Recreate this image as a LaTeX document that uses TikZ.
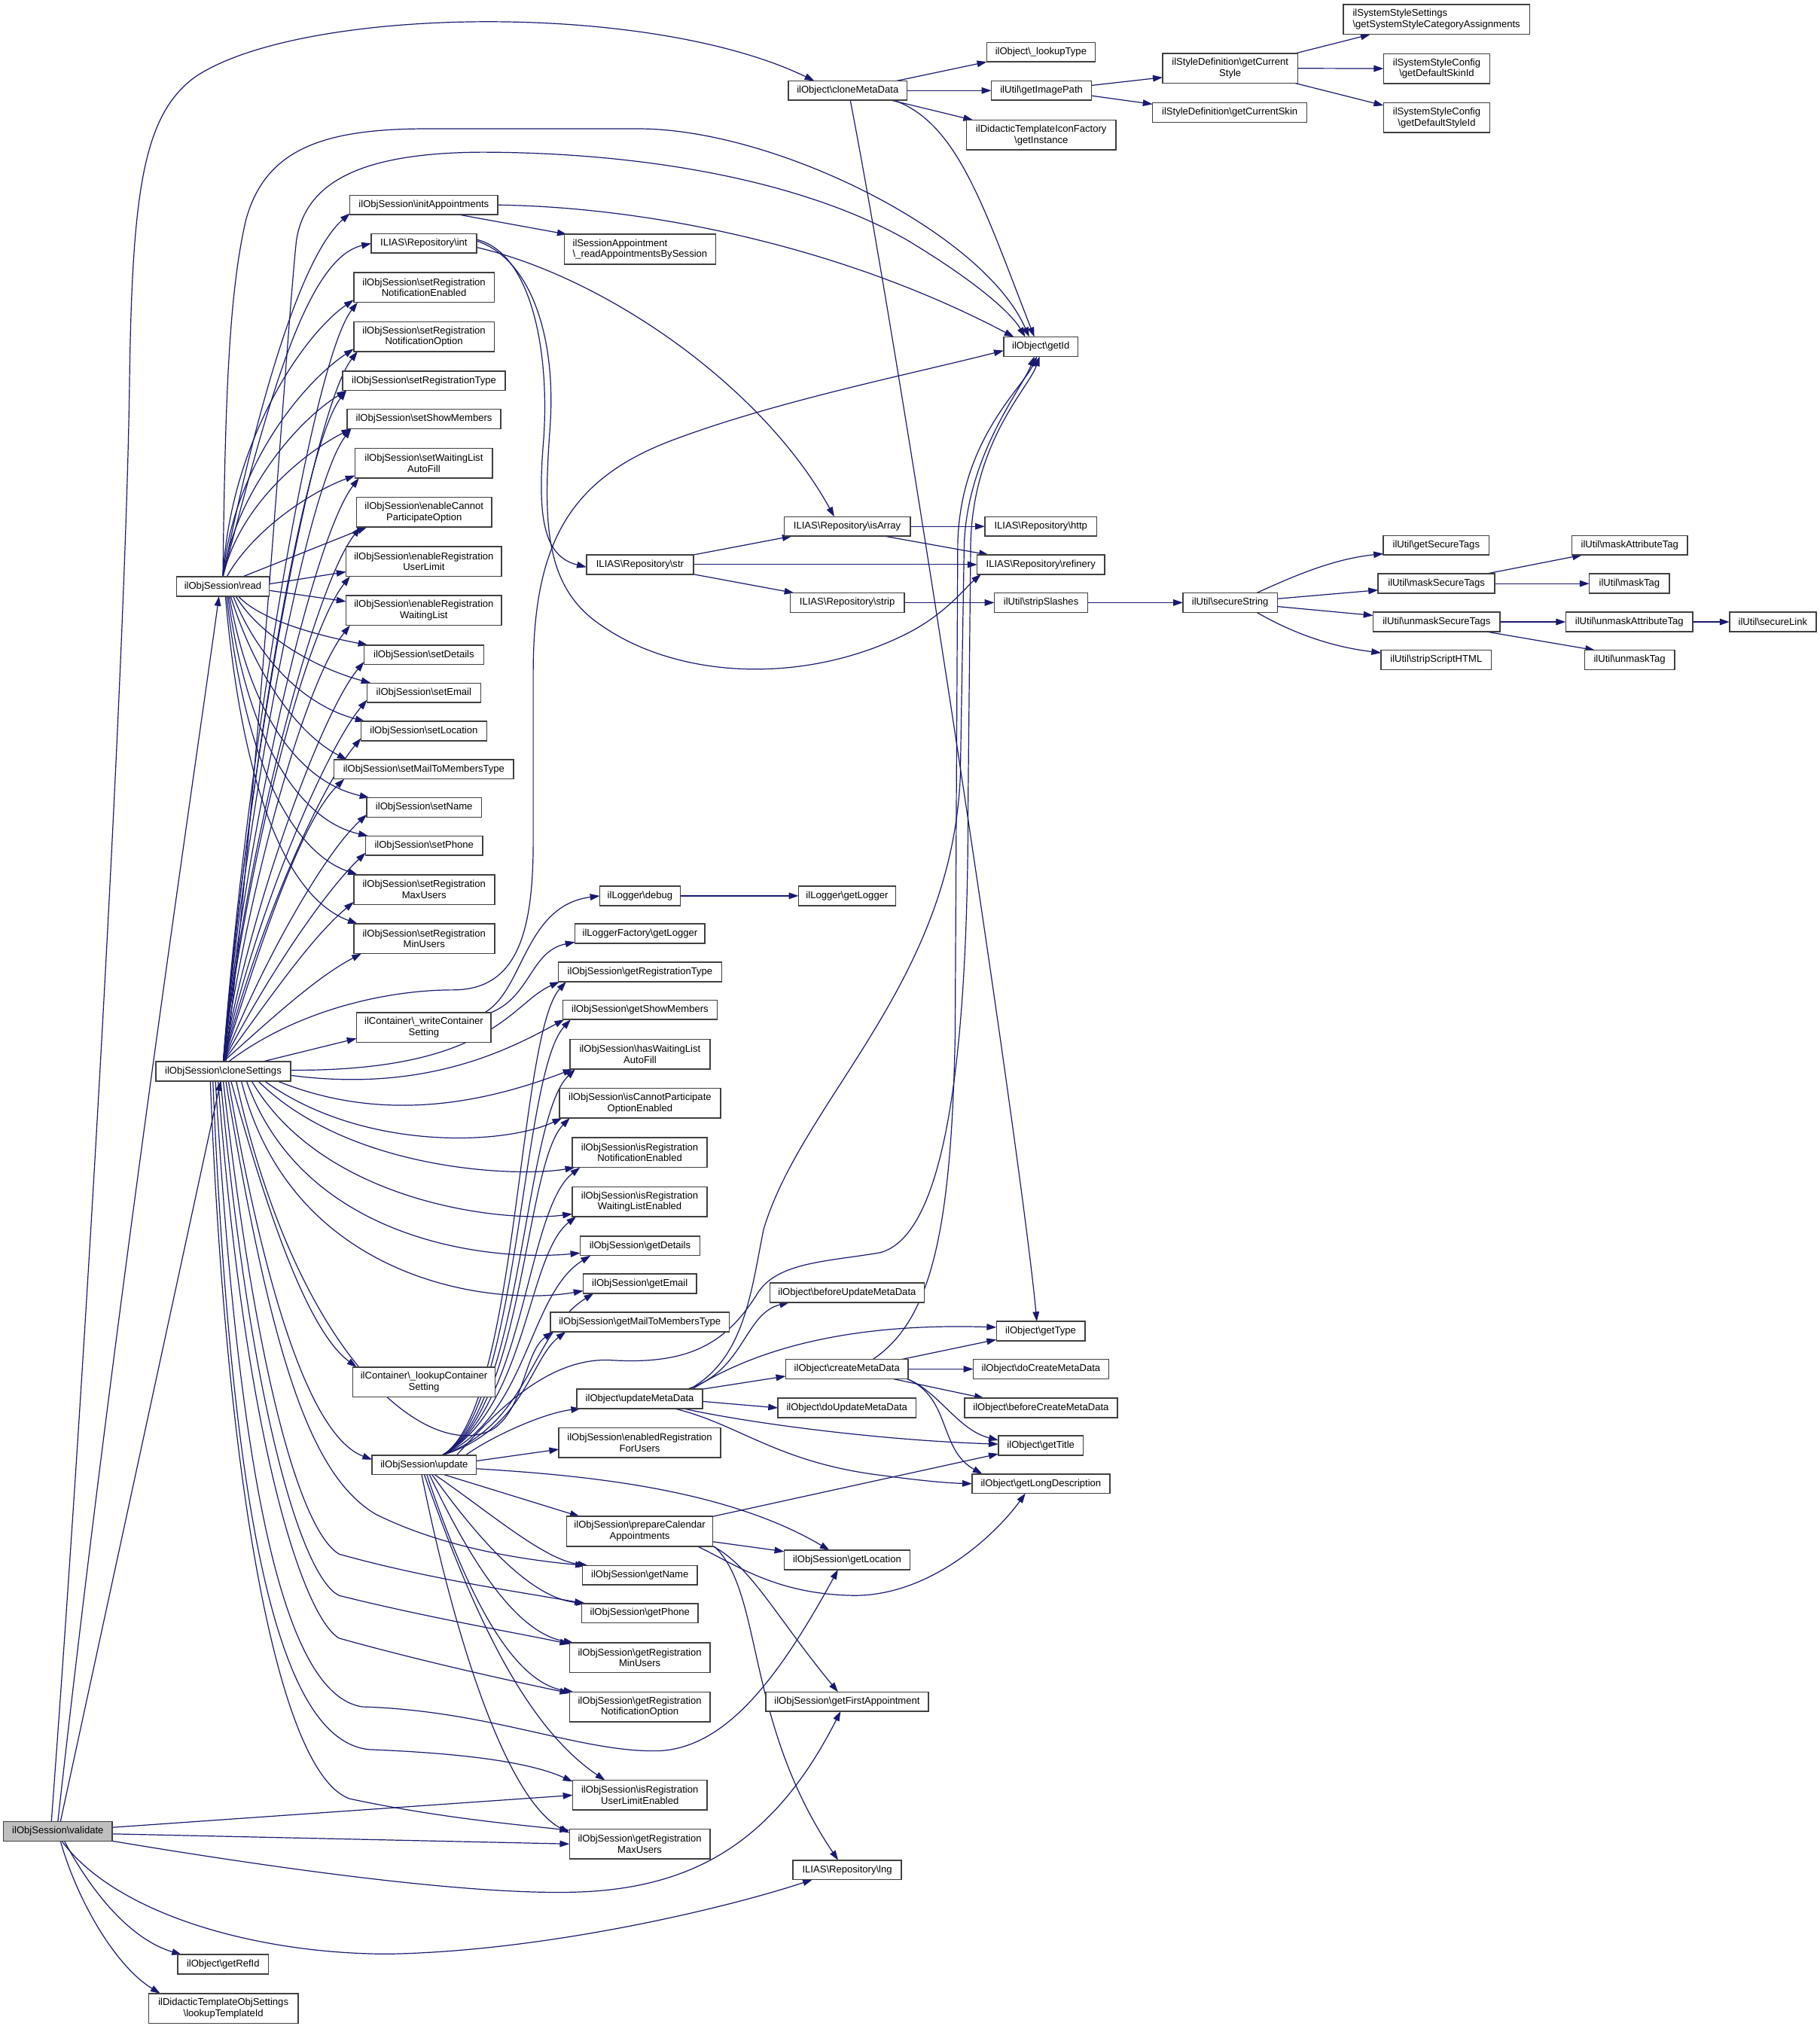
\documentclass[tikz,border=0pt]{standalone}
\usepackage{fontspec}
\setmainfont{Liberation Sans}
\usetikzlibrary{arrows.meta}
\definecolor{edgeblue}{HTML}{191970}
\definecolor{rootgray}{HTML}{BFBFBF}
\definecolor{boxline}{HTML}{404040}
\def\bs{\textbackslash}
\pgfdeclarelayer{bg}
\pgfsetlayers{bg,main}
\tikzset{
  nd/.style={draw=boxline, line width=0.9pt, fill=white, inner sep=0pt, outer sep=0pt,
    font=\fontsize{7.6}{8.6}\selectfont, align=center, minimum height=15pt},
  nd2/.style={nd, minimum height=23pt},
  ar/.style={draw=edgeblue, line width=0.7pt, -{Triangle[length=7.5pt,width=5pt]}},
}
\begin{document}
\begin{tikzpicture}[x=1pt,y=-1pt]
\useasboundingbox (0,0) rectangle (1406,1568);
% ---------------- nodes ----------------
\node[nd,fill=rootgray,minimum width=84pt] (validate) at (44.7,1415.2) {ilObjSession\bs validate};
\node[nd,minimum width=91.6pt] (cloneMeta) at (655,70) {ilObject\bs cloneMetaData};
\node[nd,minimum width=83.7pt] (lookupType) at (804.3,40.3) {ilObject\bs\_lookupType};
\node[nd,minimum width=77.5pt] (imgPath) at (804.7,70) {ilUtil\bs getImagePath};
\node[nd2,minimum width=115.3pt] (iconFac) at (804.5,104.3) {ilDidacticTemplateIconFactory\\\bs getInstance};
\node[nd2,minimum width=104.4pt] (curStyle) at (950.5,52.8) {ilStyleDefinition\bs getCurrent\\Style};
\node[nd,minimum width=119.3pt] (curSkin) at (950.2,87) {ilStyleDefinition\bs getCurrentSkin};
\node[nd2,minimum width=144.2pt,align=left] (sysSettings) at (1109.9,15.1) {ilSystemStyleSettings\\\bs getSystemStyleCategoryAssignments};
\node[nd2,minimum width=82.2pt] (skinId) at (1110.1,53) {ilSystemStyleConfig\\\bs getDefaultSkinId};
\node[nd2,minimum width=82.2pt] (styleId) at (1110.1,91) {ilSystemStyleConfig\\\bs getDefaultStyleId};
\node[nd,minimum width=114.3pt] (initApp) at (327.5,158.4) {ilObjSession\bs initAppointments};
\node[nd2,minimum width=117pt,align=left] (readApp) at (494.5,192.6) {ilSessionAppointment\\\bs\_readAppointmentsBySession};
\node[nd,minimum width=81.3pt] (int) at (327.5,188.1) {ILIAS\bs Repository\bs int};
\node[nd2,minimum width=108.6pt] (sRNE) at (327.6,222.2) {ilObjSession\bs setRegistration\\NotificationEnabled};
\node[nd2,minimum width=108.6pt] (sRNO) at (327.6,260.1) {ilObjSession\bs setRegistration\\NotificationOption};
\node[nd,minimum width=125.9pt] (sRT) at (327.6,294.3) {ilObjSession\bs setRegistrationType};
\node[nd,minimum width=118.5pt] (sSM) at (327.6,323.8) {ilObjSession\bs setShowMembers};
\node[nd2,minimum width=106.3pt] (sWL) at (327.5,358) {ilObjSession\bs setWaitingList\\AutoFill};
\node[nd2,minimum width=104.2pt] (eCP) at (327.7,395.8) {ilObjSession\bs enableCannot\\ParticipateOption};
\node[nd2,minimum width=120.1pt] (eRUL) at (327.5,433.9) {ilObjSession\bs enableRegistration\\UserLimit};
\node[nd2,minimum width=120.1pt] (eRWL) at (327.5,471.8) {ilObjSession\bs enableRegistration\\WaitingList};
\node[nd,minimum width=71.7pt] (read) at (172.2,453.3) {ilObjSession\bs read};
\node[nd,minimum width=92.5pt] (sDet) at (327.5,506) {ilObjSession\bs setDetails};
\node[nd,minimum width=87.9pt] (sEm) at (327.5,535.4) {ilObjSession\bs setEmail};
\node[nd,minimum width=97.1pt] (sLoc) at (327.5,565) {ilObjSession\bs setLocation};
\node[nd,minimum width=138.9pt] (sMail) at (327.5,594.5) {ilObjSession\bs setMailToMembersType};
\node[nd,minimum width=88.6pt] (sName) at (327.7,624) {ilObjSession\bs setName};
\node[nd,minimum width=90.4pt] (sPh) at (327.7,653.5) {ilObjSession\bs setPhone};
\node[nd2,minimum width=108.8pt] (sMax) at (327.7,687.5) {ilObjSession\bs setRegistration\\MaxUsers};
\node[nd2,minimum width=108.8pt] (sMin) at (327.7,725.4) {ilObjSession\bs setRegistration\\MinUsers};
\node[nd2,minimum width=103.9pt] (wcs) at (327.5,794) {ilContainer\bs\_writeContainer\\Setting};
\node[nd,minimum width=104pt] (clone) at (172.5,828) {ilObjSession\bs cloneSettings};
\node[nd2,minimum width=110pt] (lcs) at (327.6,1068) {ilContainer\bs\_lookupContainer\\Setting};
\node[nd,minimum width=80.5pt] (update) at (327.8,1132) {ilObjSession\bs update};
\node[nd,minimum width=70.2pt] (refId) at (172.4,1518) {ilObject\bs getRefId};
\node[nd2,minimum width=115.6pt] (tplId) at (172.6,1552) {ilDidacticTemplateObjSettings\\\bs lookupTemplateId};
\node[nd,minimum width=57.5pt] (getId) at (804.2,267.9) {ilObject\bs getId};
\node[nd,minimum width=97.3pt] (isArray) at (654.6,406.8) {ILIAS\bs Repository\bs isArray};
\node[nd,minimum width=86.5pt] (http) at (804.2,406.8) {ILIAS\bs Repository\bs http};
\node[nd,minimum width=82.6pt] (str) at (494.5,436.3) {ILIAS\bs Repository\bs str};
\node[nd,minimum width=98.4pt] (refinery) at (804.2,436.3) {ILIAS\bs Repository\bs refinery};
\node[nd,minimum width=88.1pt] (strip) at (654.6,465.7) {ILIAS\bs Repository\bs strip};
\node[nd,minimum width=72.1pt] (stripSl) at (804.4,465.7) {ilUtil\bs stripSlashes};
\node[nd,minimum width=73pt] (secStr) at (950.5,465.7) {ilUtil\bs secureString};
\node[nd,minimum width=81.7pt] (secTags) at (1109.7,421.4) {ilUtil\bs getSecureTags};
\node[nd,minimum width=90.2pt] (maskST) at (1109.9,451) {ilUtil\bs maskSecureTags};
\node[nd,minimum width=98pt] (unmaskST) at (1110,480.6) {ilUtil\bs unmaskSecureTags};
\node[nd,minimum width=85.1pt] (stripHTML) at (1109.7,510) {ilUtil\bs stripScriptHTML};
\node[nd,minimum width=89.5pt] (maskAT) at (1259.2,421.4) {ilUtil\bs maskAttributeTag};
\node[nd,minimum width=62pt] (maskTag) at (1259,451) {ilUtil\bs maskTag};
\node[nd,minimum width=98.3pt] (unmaskAT) at (1258.9,480.6) {ilUtil\bs unmaskAttributeTag};
\node[nd,minimum width=67pt] (secLink) at (1369.8,480.6) {ilUtil\bs secureLink};
\node[nd,minimum width=69.4pt] (unmaskTag) at (1259.1,510) {ilUtil\bs unmaskTag};
\node[nd,minimum width=62.1pt] (logDbg) at (494.5,692.3) {ilLogger\bs debug};
\node[nd,minimum width=75pt] (logGet) at (654.5,692.3) {ilLogger\bs getLogger};
\node[nd,minimum width=100.4pt] (logFac) at (494.5,721.5) {ilLoggerFactory\bs getLogger};
\node[nd,minimum width=126.2pt] (gRT) at (494.5,751.2) {ilObjSession\bs getRegistrationType};
\node[nd,minimum width=119.1pt] (gSM) at (494.5,780.4) {ilObjSession\bs getShowMembers};
\node[nd2,minimum width=108pt] (hWL) at (494.5,814.7) {ilObjSession\bs hasWaitingList\\AutoFill};
\node[nd2,minimum width=124.5pt] (iCP) at (494.5,852.5) {ilObjSession\bs isCannotParticipate\\OptionEnabled};
\node[nd2,minimum width=104.2pt] (iRNE) at (494.3,890.7) {ilObjSession\bs isRegistration\\NotificationEnabled};
\node[nd2,minimum width=104.2pt] (iRWL) at (494.3,928.6) {ilObjSession\bs isRegistration\\WaitingListEnabled};
\node[nd,minimum width=92.4pt] (gDet) at (494.5,962.8) {ilObjSession\bs getDetails};
\node[nd,minimum width=87.4pt] (gEm) at (494.4,992) {ilObjSession\bs getEmail};
\node[nd,minimum width=138.4pt] (gMail) at (494.4,1021.6) {ilObjSession\bs getMailToMembersType};
\node[nd,minimum width=119.3pt] (bUMD) at (654.5,999) {ilObject\bs beforeUpdateMetaData};
\node[nd,minimum width=68.4pt] (gType) at (804.1,1028.7) {ilObject\bs getType};
\node[nd,minimum width=94.6pt] (cMD) at (654.4,1058) {ilObject\bs createMetaData};
\node[nd,minimum width=104.7pt] (dCMD) at (804.3,1058) {ilObject\bs doCreateMetaData};
\node[nd,minimum width=97.1pt] (uMD) at (494.3,1081) {ilObject\bs updateMetaData};
\node[nd,minimum width=106.6pt] (dUMD) at (654.4,1088) {ilObject\bs doUpdateMetaData};
\node[nd,minimum width=117.9pt] (bCMD) at (804.3,1088) {ilObject\bs beforeCreateMetaData};
\node[nd2,minimum width=124.9pt] (eRFU) at (494.3,1115) {ilObjSession\bs enabledRegistration\\ForUsers};
\node[nd,minimum width=65.6pt] (gTitle) at (804.2,1117) {ilObject\bs getTitle};
\node[nd,minimum width=106.5pt] (gLD) at (804.3,1146.6) {ilObject\bs getLongDescription};
\node[nd2,minimum width=112.9pt] (pCA) at (494.3,1183.4) {ilObjSession\bs prepareCalendar\\Appointments};
\node[nd,minimum width=97.1pt] (gLoc) at (654.5,1205.5) {ilObjSession\bs getLocation};
\node[nd,minimum width=88.6pt] (gName) at (494.4,1217.3) {ilObjSession\bs getName};
\node[nd,minimum width=89.8pt] (gPh) at (494.4,1246.6) {ilObjSession\bs getPhone};
\node[nd2,minimum width=108.5pt] (gMin) at (494.3,1281) {ilObjSession\bs getRegistration\\MinUsers};
\node[nd2,minimum width=108.5pt] (gRNO) at (494.3,1319) {ilObjSession\bs getRegistration\\NotificationOption};
\node[nd,minimum width=125.5pt] (gFA) at (654.5,1315) {ilObjSession\bs getFirstAppointment};
\node[nd2,minimum width=103.8pt] (iRUL) at (494.4,1387.3) {ilObjSession\bs isRegistration\\UserLimitEnabled};
\node[nd2,minimum width=108.5pt] (gMax) at (494.3,1425) {ilObjSession\bs getRegistration\\MaxUsers};
\node[nd,minimum width=83.6pt] (lng) at (654.6,1445) {ILIAS\bs Repository\bs lng};
% ---------------- edges ----------------
\begin{pgfonlayer}{bg}
\fill[white] (0,0) rectangle (1406,1568);
% validate
\draw[ar] ([xshift=-5pt]validate.north) .. controls (70,1000) and (97,500) .. (100,300) .. controls (102,150) and (110,90) .. (150,60) .. controls (230,5) and (500,0) .. ([xshift=20pt]cloneMeta.north west);
\draw[ar] (validate.north) .. controls (90,1000) and (150,600) .. ([xshift=-3pt]read.south);
\draw[ar] ([xshift=2pt]validate.north) -- ([xshift=-2pt]clone.south);
\draw[ar] ([yshift=3pt]validate.east) -- (iRUL.west);
\draw[ar] ([yshift=-2pt]validate.east) -- (gMax.west);
\draw[ar] (validate.south east) .. controls (250,1450) and (380,1465) .. (450,1462) .. controls (540,1458) and (600,1420) .. ([xshift=-5pt]gFA.south);
\draw[ar] ([xshift=3pt]validate.south) .. controls (90,1480) and (200,1510) .. (300,1510) .. controls (420,1508) and (560,1475) .. ([xshift=15pt]lng.south west);
\draw[ar] ([xshift=5pt]validate.south) .. controls (75,1470) and (105,1500) .. ([xshift=3pt]refId.north west);
\draw[ar] ([xshift=2pt]validate.south) .. controls (60,1470) and (90,1520) .. ([xshift=9pt]tplId.north west);
% read
\draw[ar] (read.north) .. controls (174,320) and (176,230) .. (190,170) .. controls (205,115) and (250,99.5) .. (330,99.5) -- (494,99.5) .. controls (600,100) and (760,180) .. ([xshift=-9pt]getId.north);
\draw[ar] (read.north) .. controls (195,330) and (230,200) .. ([yshift=1pt]initApp.south west);
\draw[ar] (read.north) .. controls (205,320) and (235,200) .. (int.west);
\draw[ar] (read.north) .. controls (178,340) and (235,258) .. ([yshift=2pt]sRNE.south west);
\draw[ar] (read.north) .. controls (180,360) and (235,295) .. ([yshift=2pt]sRNO.south west);
\draw[ar] (read.north) .. controls (182,380) and (230,325) .. ([xshift=3pt]sRT.south west);
\draw[ar] (read.north) .. controls (185,390) and (235,350) .. ([xshift=3pt]sSM.south west);
\draw[ar] ([xshift=3pt]read.north) .. controls (195,410) and (240,380) .. ([yshift=2pt]sWL.south west);
\draw[ar] ([xshift=15pt]read.north) -- ([xshift=8pt]eCP.south west);
\draw[ar] ([yshift=2pt]read.east) -- ([yshift=-8pt]eRUL.west);
\draw[ar] ([yshift=-3pt]read.east) -- ([yshift=7pt]eRWL.west);
\draw[ar] ([xshift=12pt]read.south) .. controls (200,478) and (240,490) .. ([xshift=3pt]sDet.north west);
\draw[ar] ([xshift=10pt]read.south) .. controls (200,490) and (240,515) .. ([xshift=3pt]sEm.north west);
\draw[ar] ([xshift=8pt]read.south) .. controls (200,510) and (235,545) .. ([xshift=3pt]sLoc.north west);
\draw[ar] ([xshift=6pt]read.south) .. controls (200,530) and (235,570) .. ([xshift=10pt]sMail.north west);
\draw[ar] ([xshift=5pt]read.south) .. controls (195,560) and (235,605) .. ([xshift=2pt]sName.north west);
\draw[ar] ([xshift=4pt]read.south) .. controls (192,580) and (235,635) .. ([xshift=2pt]sPh.north west);
\draw[ar] ([xshift=3pt]read.south) .. controls (190,600) and (230,660) .. ([xshift=3pt]sMax.north west);
\draw[ar] ([xshift=2pt]read.south) .. controls (188,620) and (225,695) .. ([xshift=3pt]sMin.north west);
% cloneSettings -> setters
\draw[ar] (clone.north) .. controls (190,586) and (241,279) .. ([xshift=3pt]sRNE.south west);
\draw[ar] (clone.north) .. controls (190,601) and (241,317) .. ([xshift=3pt]sRNO.south west);
\draw[ar] (clone.north) .. controls (190,614) and (233,347) .. ([xshift=3pt]sRT.south west);
\draw[ar] (clone.north) .. controls (190,625) and (237,376) .. ([xshift=3pt]sSM.south west);
\draw[ar] (clone.north) .. controls (190,640) and (242,415) .. ([xshift=3pt]sWL.south west);
\draw[ar] (clone.north) .. controls (190,655) and (243,452) .. ([xshift=3pt]eCP.south west);
\draw[ar] (clone.north) .. controls (190,670) and (235,490) .. ([xshift=3pt]eRUL.south west);
\draw[ar] (clone.north) .. controls (192,686) and (235,528) .. ([xshift=3pt]eRWL.south west);
\draw[ar] (clone.north) .. controls (194,698) and (249,550) .. ([yshift=2pt]sDet.south west);
\draw[ar] (clone.north) .. controls (196,709) and (251,580) .. ([yshift=2pt]sEm.south west);
\draw[ar] (clone.north) .. controls (198,721) and (246,610) .. ([yshift=2pt]sLoc.south west);
\draw[ar] (clone.north) .. controls (200,733) and (232,635) .. ([xshift=8pt]sMail.south west);
\draw[ar] (clone.north) .. controls (202,745) and (250,660) .. ([yshift=2pt]sName.south west);
\draw[ar] (clone.north) .. controls (205,757) and (250,690) .. ([yshift=2pt]sPh.south west);
\draw[ar] (clone.north) .. controls (208,772) and (240,725) .. ([yshift=2pt]sMax.south west);
\draw[ar] (clone.north) .. controls (212,785) and (245,755) .. ([xshift=6pt]sMin.south west);
% cloneSettings -> others
\draw[ar] ([xshift=30pt]clone.north) -- ([yshift=3pt]wcs.south west);
\draw[ar] ([xshift=4pt]clone.north) .. controls (230,780) and (300,765) .. (350,765) .. controls (400,765) and (412,720) .. (412,650) -- (412,520) .. controls (412,420) and (440,370) .. (520,340) .. controls (600,310) and (700,290) .. ([yshift=-3pt]getId.west);
\draw[ar] ([xshift=2pt]clone.north) .. controls (200,600) and (222,250) .. (229,186) .. controls (236,140) and (280,118) .. (373,117.6) .. controls (500,118) and (620,140) .. (700,185) .. controls (750,215) and (780,240) .. ([xshift=-12pt]getId.north);
\draw[ar] ([yshift=1pt]clone.east) .. controls (380,828) and (395,775) .. ([xshift=1pt]gRT.south west);
\draw[ar] ([yshift=-3pt]clone.east) .. controls (330,845) and (395,810) .. ([xshift=1pt]gSM.south west);
\draw[ar] ([xshift=-10pt]clone.south east) .. controls (300,870) and (380,850) .. ([xshift=2pt]hWL.south west);
\draw[ar] ([xshift=-20pt]clone.south east) .. controls (280,890) and (390,885) .. ([xshift=2pt]iCP.south west);
\draw[ar] ([xshift=-25pt]clone.south east) .. controls (270,905) and (400,910) .. ([xshift=2pt]iRNE.south west);
\draw[ar] ([xshift=-30pt]clone.south east) .. controls (250,930) and (390,945) .. ([yshift=2pt]iRWL.south west);
\draw[ar] ([xshift=18pt]clone.south) .. controls (235,960) and (380,975) .. ([yshift=2pt]gDet.south west);
\draw[ar] ([xshift=14pt]clone.south) .. controls (225,990) and (380,1010) .. ([yshift=2pt]gEm.south west);
\draw[ar] ([xshift=10pt]clone.south) .. controls (230,1050) and (330,1130) .. (380,1105) .. controls (405,1090) and (405,1045) .. ([xshift=2pt]gMail.south west);
\draw[ar] ([xshift=6pt]clone.south) .. controls (210,950) and (240,1030) .. ([xshift=3pt]lcs.north west);
\draw[ar] ([xshift=4pt]clone.south) .. controls (205,1000) and (240,1110) .. ([yshift=4pt]update.west);
\draw[ar] ([xshift=2pt]clone.south) .. controls (210,1050) and (240,1140) .. (290,1170) .. controls (340,1195) and (400,1205) .. ([xshift=2pt]gName.north west);
\draw[ar] (clone.south) .. controls (200,1080) and (235,1185) .. (262,1201) .. controls (330,1220) and (400,1230) .. ([xshift=2pt]gPh.north west);
\draw[ar] ([xshift=-2pt]clone.south) .. controls (195,1100) and (235,1220) .. (262,1233) .. controls (330,1250) and (400,1262) .. ([yshift=-1pt]gMin.north west);
\draw[ar] ([xshift=-4pt]clone.south) .. controls (190,1120) and (235,1250) .. (262,1266) .. controls (330,1285) and (400,1300) .. ([yshift=-1pt]gRNO.north west);
\draw[ar] ([xshift=-6pt]clone.south) .. controls (185,1150) and (220,1310) .. (280,1319) .. controls (380,1322) and (450,1355) .. (510,1353) .. controls (560,1350) and (600,1300) .. ([xshift=-7pt]gLoc.south);
\draw[ar] ([xshift=-8pt]clone.south) .. controls (180,1200) and (220,1345) .. (285,1352) .. controls (360,1355) and (410,1362) .. ([yshift=-1pt]iRUL.north west);
\draw[ar] ([xshift=-10pt]clone.south) .. controls (175,1150) and (215,1370) .. (270,1390) .. controls (340,1405) and (400,1410) .. ([yshift=-1pt]gMax.north west);
% update
\draw[ar] ([xshift=14pt]update.north) .. controls (400,1090) and (400,800) .. ([xshift=6pt]gRT.south west);
\draw[ar] ([xshift=14pt]update.north) .. controls (402,1090) and (402,830) .. ([xshift=6pt]gSM.south west);
\draw[ar] ([xshift=14pt]update.north) .. controls (404,1090) and (404,865) .. ([xshift=4pt]hWL.south west);
\draw[ar] ([xshift=14pt]update.north) .. controls (405,1090) and (405,900) .. ([xshift=8pt]iCP.south west);
\draw[ar] ([xshift=14pt]update.north) .. controls (406,1090) and (406,935) .. ([xshift=6pt]iRNE.south west);
\draw[ar] ([xshift=14pt]update.north) .. controls (407,1090) and (407,970) .. ([xshift=3pt]iRWL.south west);
\draw[ar] ([xshift=14pt]update.north) .. controls (408,1095) and (408,1000) .. ([xshift=8pt]gDet.south west);
\draw[ar] ([xshift=14pt]update.north) .. controls (410,1100) and (410,1030) .. ([xshift=8pt]gEm.south west);
\draw[ar] ([xshift=14pt]update.north) .. controls (405,1105) and (410,1050) .. ([xshift=12pt]gMail.south west);
\draw[ar] ([xshift=25pt]update.north) .. controls (380,1095) and (420,1050) .. (470,1051) .. controls (530,1055) and (560,1040) .. (585,1000) .. controls (600,975) and (640,975) .. (680,968) .. controls (730,955) and (748,820) .. (748,620) -- (750,420) .. controls (752,340) and (795,300) .. ([xshift=-1pt]getId.south);
\draw[ar] ([xshift=32pt]update.north) .. controls (380,1110) and (420,1092) .. ([xshift=3pt]uMD.south west);
\draw[ar] ([yshift=3pt]update.east) -- ([yshift=-5pt]eRFU.west);
\draw[ar] ([yshift=-3pt]update.east) .. controls (450,1140) and (560,1150) .. ([xshift=35pt]gLoc.north west);
\draw[ar] ([xshift=15pt]update.south) -- ([xshift=10pt]pCA.north west);
\draw[ar] ([xshift=8pt]update.south) .. controls (380,1170) and (420,1205) .. ([xshift=4pt]gName.north west);
\draw[ar] ([xshift=6pt]update.south) .. controls (370,1190) and (410,1235) .. ([xshift=3pt]gPh.north west);
\draw[ar] ([xshift=4pt]update.south) .. controls (365,1210) and (400,1262) .. ([xshift=3pt]gMin.north west);
\draw[ar] ([xshift=2pt]update.south) .. controls (360,1230) and (395,1300) .. ([xshift=3pt]gRNO.north west);
\draw[ar] (update.south) .. controls (360,1230) and (400,1330) .. ([xshift=25pt]iRUL.north west);
\draw[ar] ([xshift=-2pt]update.south) .. controls (350,1260) and (390,1390) .. ([yshift=-3pt]gMax.north west);
% prepareCalendarAppointments
\draw[ar] (pCA.north east) -- ([yshift=1pt]gTitle.south west);
\draw[ar] ([yshift=-8pt]pCA.east) -- ([yshift=-1pt]gLoc.north west);
\draw[ar] ([xshift=-12pt]pCA.south east) .. controls (570,1210) and (600,1232) .. (660,1233) .. controls (720,1233) and (770,1185) .. ([xshift=-12pt]gLD.south);
\draw[ar] (pCA.south east) .. controls (580,1210) and (600,1250) .. ([xshift=-7pt]gFA.north);
\draw[ar] ([xshift=1pt]pCA.south east) .. controls (590,1230) and (575,1330) .. ([xshift=-7pt]lng.north);
% updateMetaData
\draw[ar] ([xshift=-12pt]uMD.north east) .. controls (575,1060) and (575,1015) .. ([xshift=15pt]bUMD.south west);
\draw[ar] (uMD.north east) -- ([yshift=2pt]cMD.south west);
\draw[ar] ([yshift=-2pt]uMD.east) -- (dUMD.west);
\draw[ar] ([xshift=-8pt]uMD.north east) .. controls (580,1045) and (650,1022) .. ([yshift=3pt]gType.west);
\draw[ar] ([xshift=-15pt]uMD.south east) .. controls (580,1100) and (680,1113) .. ([yshift=1pt]gTitle.west);
\draw[ar] ([xshift=-22pt]uMD.south east) .. controls (570,1100) and (600,1130) .. (680,1140) .. controls (710,1144) and (730,1146) .. (gLD.west);
\draw[ar] ([xshift=-10pt]uMD.north east) .. controls (575,1050) and (580,1000) .. (590,950) .. controls (620,850) and (735,760) .. (742,600) -- (745,420) .. controls (748,350) and (790,300) .. ([xshift=-5pt]getId.south);
% createMetaData
\draw[ar] ([xshift=20pt]cMD.north) .. controls (720,1020) and (735,950) .. (738,800) -- (740,420) .. controls (742,340) and (790,300) .. ([xshift=-3pt]getId.south);
\draw[ar] ([xshift=-5pt]cMD.north east) -- ([yshift=1pt]gType.south west);
\draw[ar] (cMD.east) -- (dCMD.west);
\draw[ar] ([xshift=-12pt]cMD.south east) -- ([xshift=15pt]bCMD.north west);
\draw[ar] ([xshift=-1pt]cMD.south east) .. controls (725,1075) and (740,1105) .. ([yshift=4pt]gTitle.west);
\draw[ar] ([xshift=-1pt]cMD.south east) .. controls (735,1080) and (725,1120) .. ([xshift=8pt]gLD.north west);
% cloneMetaData
\draw[ar] ([xshift=-8pt]cloneMeta.north east) -- (lookupType.south west);
\draw[ar] (cloneMeta.east) -- (imgPath.west);
\draw[ar] ([xshift=-12pt]cloneMeta.south east) -- ([xshift=5pt]iconFac.north west);
\draw[ar] ([xshift=-10pt]cloneMeta.south east) .. controls (740,95) and (760,160) .. ([xshift=-5pt]getId.north);
\draw[ar] ([xshift=2pt]cloneMeta.south) .. controls (700,300) and (790,900) .. ([xshift=-3pt]gType.north);
\draw[ar] ([yshift=4pt]imgPath.east) -- ([yshift=-7pt]curStyle.west);
\draw[ar] ([yshift=-4pt]imgPath.east) -- ([yshift=-1pt]curSkin.north west);
\draw[ar] ([xshift=-2pt]curStyle.north east) -- ([xshift=21pt]sysSettings.south west);
\draw[ar] (curStyle.east) -- (skinId.west);
\draw[ar] ([xshift=-2pt]curStyle.south east) -- ([yshift=-2pt]styleId.north west);
% initAppointments, int
\draw[ar] ([xshift=-30pt]initApp.south east) -- ([xshift=2pt]readApp.north west);
\draw[ar] (initApp.east) .. controls (500,160) and (650,190) .. ([xshift=8pt]getId.north west);
\draw[ar] ([yshift=-3pt]int.east) .. controls (470,215) and (590,300) .. ([xshift=-10pt]isArray.north);
\draw[ar] ([yshift=3pt]int.east) .. controls (410,195) and (425,270) .. (420,340) .. controls (415,400) and (420,430) .. ([yshift=-2pt]str.west);
\draw[ar] ([yshift=2pt]int.east) .. controls (410,200) and (430,260) .. (425,330) .. controls (420,400) and (420,450) .. (460,480) .. controls (520,525) and (620,530) .. (700,490) .. controls (730,475) and (745,455) .. ([xshift=3pt]refinery.south west);
% repository / util chain
\draw[ar] (isArray.east) -- (http.west);
\draw[ar] ([xshift=-20pt]isArray.south east) -- ([xshift=9pt]refinery.north west);
\draw[ar] (str.north east) -- ([xshift=6pt]isArray.south west);
\draw[ar] (str.east) -- (refinery.west);
\draw[ar] (str.south east) -- ([xshift=3pt]strip.north west);
\draw[ar] (strip.east) -- (stripSl.west);
\draw[ar] (stripSl.east) -- (secStr.west);
\draw[ar] ([xshift=-16pt]secStr.north east) .. controls (1000,445) and (1030,432) .. ([yshift=1pt]secTags.south west);
\draw[ar] ([yshift=3pt]secStr.east) -- ([yshift=-5pt]maskST.west);
\draw[ar] ([yshift=-3pt]secStr.east) -- ([yshift=5pt]unmaskST.west);
\draw[ar] ([xshift=-16pt]secStr.south east) .. controls (1000,490) and (1030,500) .. ([yshift=-2pt]stripHTML.north west);
\draw[ar] ([xshift=-7pt]maskST.north east) -- ([xshift=8pt]maskAT.south west);
\draw[ar] (maskST.east) -- (maskTag.west);
\draw[ar] (unmaskST.east) -- (unmaskAT.west);
\draw[ar] ([xshift=-11pt]unmaskST.south east) -- ([xshift=8pt]unmaskTag.north west);
\draw[ar] (unmaskAT.east) -- (secLink.west);
% logger
\draw[ar] (logDbg.east) -- (logGet.west);
\draw[ar] ([xshift=-5pt]wcs.north east) .. controls (405,765) and (405,700) .. (logDbg.west);
\draw[ar] (wcs.north east) .. controls (410,770) and (410,735) .. ([yshift=1pt]logFac.south west);
\end{pgfonlayer}
\end{tikzpicture}
\end{document}
